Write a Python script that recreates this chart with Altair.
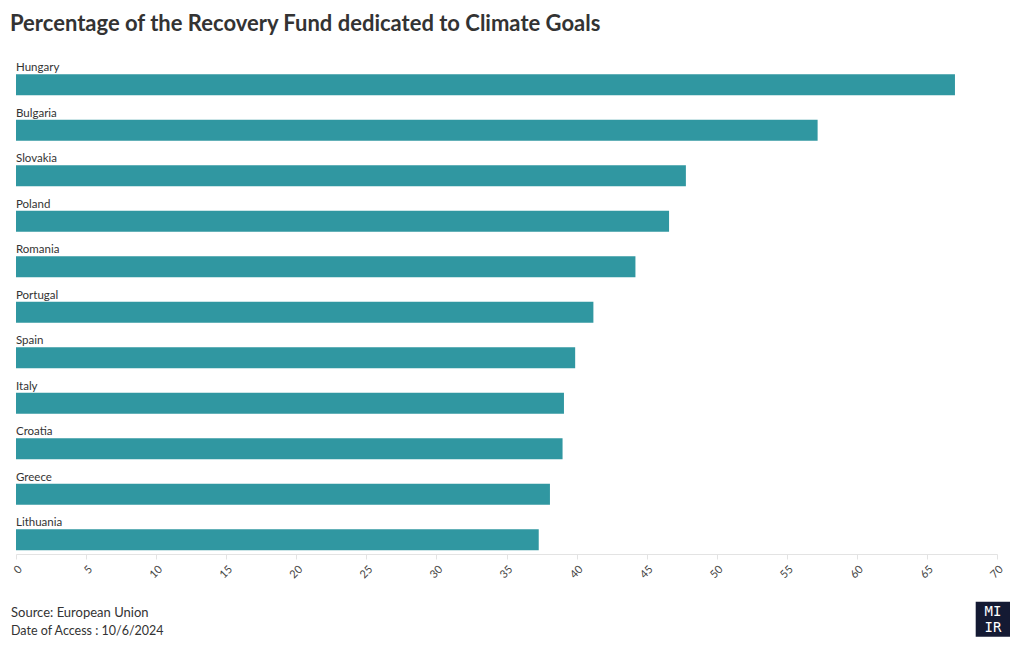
import altair as alt
import pandas as pd

countries = ["Hungary", "Bulgaria", "Slovakia", "Poland", "Romania", "Portugal",
             "Spain", "Italy", "Croatia", "Greece", "Lithuania"]
values = [67.0, 57.2, 47.8, 46.6, 44.2, 41.2, 39.9, 39.1, 39.0, 38.1, 37.3]
x_ticks = list(range(0, 75, 5))
title_text = "Percentage of the Recovery Fund dedicated to Climate Goals"
footer_lines = ["Source: European Union", "Date of Access : 10/6/2024"]
logo_lines = ["MI", "IR"]

df = pd.DataFrame({"country": countries, "value": values})
PLOT_TOP = 53.5

y_enc = alt.Y("country:N", sort=countries, axis=None,
              scale=alt.Scale(paddingInner=0, paddingOuter=0))

bars = alt.Chart(df).mark_bar(size=21, yOffset=8.5, color="#3097a1").encode(
    x=alt.X("value:Q", scale=alt.Scale(domain=[0, 70], nice=False),
            axis=alt.Axis(values=x_ticks, title=None, grid=False, labelAngle=-45,
                          labelFont="Lato", labelFontSize=11, labelColor="#444",
                          domainColor="#e3e3e3", tickColor="#e3e3e3", tickSize=5,
                          labelPadding=4)),
    y=y_enc,
    tooltip=["country", "value"],
)

labels = alt.Chart(df).mark_text(align="left", baseline="alphabetic", dy=-5,
                                 font="Lato", fontSize=11.5, color="#333").encode(
    x=alt.value(0), y=y_enc, text="country:N"
)

footer_df = pd.DataFrame({"line": footer_lines, "i": [0, 1]})
footer = alt.Chart(footer_df).mark_text(align="left", baseline="alphabetic",
                                        font="Lato", fontSize=13, color="#333").encode(
    x=alt.value(-5), y=alt.value(563.5), text="line:N",
).transform_filter("datum.i == 0")
footer2 = alt.Chart(footer_df).mark_text(align="left", baseline="alphabetic",
                                         font="Lato", fontSize=12.5, color="#333").encode(
    x=alt.value(-5), y=alt.value(581), text="line:N",
).transform_filter("datum.i == 1")

logo_box = alt.Chart(alt.Data(values=[{}])).mark_rect(color="#141a33").encode(
    x=alt.value(959.7), x2=alt.value(994), y=alt.value(548.2), y2=alt.value(583.2)
)
logo_df = pd.DataFrame({"t": logo_lines, "i": [0, 1]})
logo1 = alt.Chart(logo_df).mark_text(font="DejaVu Sans Mono", fontSize=14, color="white",
                                     baseline="middle", align="center").encode(
    x=alt.value(977), y=alt.value(558), text="t:N").transform_filter("datum.i == 0")
logo2 = alt.Chart(logo_df).mark_text(font="DejaVu Sans Mono", fontSize=14, color="white",
                                     baseline="middle", align="center").encode(
    x=alt.value(977), y=alt.value(574), text="t:N").transform_filter("datum.i == 1")

chart = alt.layer(bars, labels, footer, footer2, logo_box, logo1, logo2).properties(
    width=981, height=500.5,
    background="white",
    title=alt.TitleParams(title_text, anchor="start", font="Lato", fontSize=22,
                          fontWeight="bold", color="#333", dx=-1, offset=18),
    autosize=alt.AutoSizeParams(type="none"),
    padding={"left": 8, "top": PLOT_TOP - 8, "right": 15, "bottom": 85},
).configure_view(strokeWidth=0)

chart.save("out.html", embed_options={"renderer": "svg", "actions": False})
